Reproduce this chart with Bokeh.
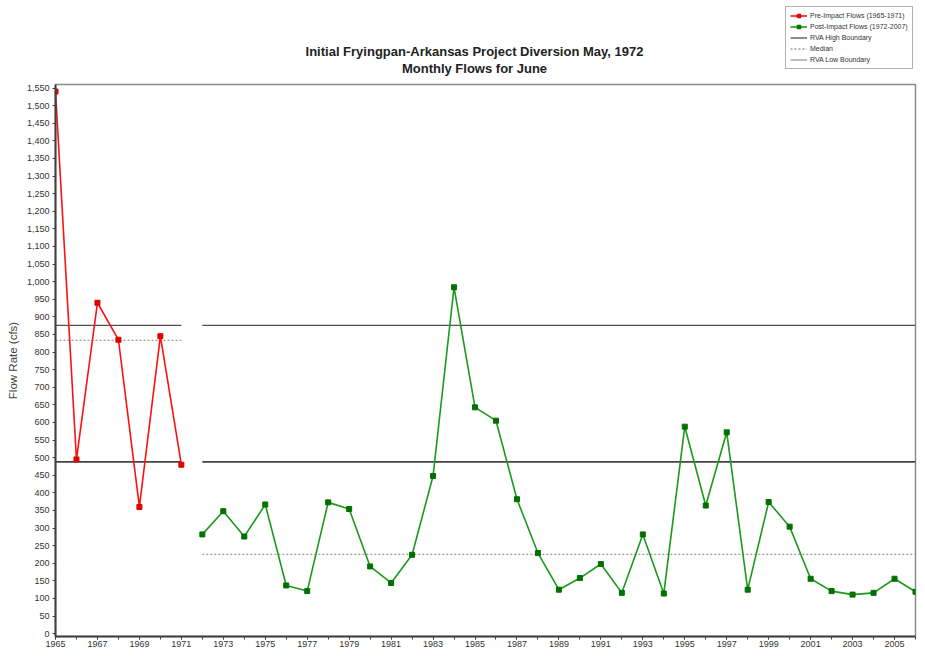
from bokeh.plotting import figure
from bokeh.layouts import column
from bokeh.models import Range1d, FixedTicker, NumeralTickFormatter, Legend, LegendItem, Label
from bokeh.embed import file_html
from bokeh.resources import INLINE

# ---- data ----
pre_years = list(range(1965, 1972))
pre_flows = [1540, 495, 940, 835, 360, 845, 480]
post_years = list(range(1972, 2007))
post_flows = [282, 348, 276, 367, 137, 121, 373, 354, 191, 144,
              224, 448, 984, 643, 605, 382, 229, 125, 158, 198,
              116, 282, 114, 588, 364, 572, 125, 374, 304, 156,
              121, 111, 116, 156, 119]
rva_high = 876
rva_low = 488
pre_median = 833
post_median = 225
title_lines = ["Initial Fryingpan-Arkansas Project Diversion May, 1972",
               "Monthly Flows for June"]
legend_labels = ["Pre-Impact Flows (1965-1971)", "Post-Impact Flows (1972-2007)",
                 "RVA High Boundary", "Median", "RVA Low Boundary"]
x_tick_years = list(range(1965, 2007, 2))
x_minor_years = list(range(1965, 2007))
y_ticks = list(range(0, 1551, 50))

FONT = "Liberation Sans"
W = 917
HEAD_H = 83
BODY_H = 569
LEFT = 55
RIGHT = 2

# styles
PRE_LINE = dict(line_color="#ff1010", line_width=1.6)
PRE_MARK = dict(marker="square", size=5, color="#e00000")
POST_LINE = dict(line_color="#1a9a1a", line_width=1.6)
POST_MARK = dict(marker="square", size=5, color="#007000")
HI_STYLE = dict(line_color="#505050", line_width=1.3)
MED_STYLE = dict(line_color="#9a9a9a", line_width=1.3, line_dash="2 2")
LO_STYLE = dict(line_color="#454545", line_width=1.6)
LO_LEG_STYLE = dict(line_color="#9a9a9a", line_width=1.3)

pre_span = [pre_years[0], pre_years[-1]]
post_span = [post_years[0], post_years[-1]]

# ---------------- header: title + legend ----------------
head = figure(width=W, height=HEAD_H, output_backend="svg", toolbar_location=None,
              x_range=Range1d(LEFT, W - RIGHT), y_range=Range1d(0, HEAD_H),
              x_axis_location=None, y_axis_location=None,
              min_border_left=LEFT, min_border_right=RIGHT,
              min_border_top=0, min_border_bottom=0)
head.xgrid.visible = False
head.ygrid.visible = False
head.outline_line_color = None

# legend proxies (hidden copies of the series, only used to draw legend swatches)
lp1 = head.line(pre_years, pre_flows, visible=False, **PRE_LINE)
lp2 = head.scatter(pre_years, pre_flows, visible=False, **PRE_MARK)
lq1 = head.line(post_years, post_flows, visible=False, **POST_LINE)
lq2 = head.scatter(post_years, post_flows, visible=False, **POST_MARK)
lh = head.line(pre_span, [rva_high, rva_high], visible=False, **HI_STYLE)
lm = head.line(pre_span, [pre_median, pre_median], visible=False, **MED_STYLE)
ll = head.line(pre_span, [rva_low, rva_low], visible=False, **LO_LEG_STYLE)

legend = Legend(items=[
    LegendItem(label=legend_labels[0], renderers=[lp1, lp2]),
    LegendItem(label=legend_labels[1], renderers=[lq1, lq2]),
    LegendItem(label=legend_labels[2], renderers=[lh]),
    LegendItem(label=legend_labels[3], renderers=[lm]),
    LegendItem(label=legend_labels[4], renderers=[ll]),
], location=(730, 14))
legend.label_text_font = FONT
legend.label_text_font_size = "7px"
legend.label_text_color = "#333333"
legend.label_height = 9
legend.glyph_height = 9
legend.glyph_width = 17
legend.label_standoff = 3
legend.spacing = 2
legend.padding = 4
legend.margin = 0
legend.border_line_color = "#666666"
legend.border_line_width = 1
legend.background_fill_alpha = 1
head.add_layout(legend, "center")

title_x = 474
title_y = [HEAD_H - 51, HEAD_H - 68]
for txt, ty in zip(title_lines, title_y):
    head.add_layout(Label(x=title_x, y=ty, text=txt, text_align="center", text_baseline="middle",
                          text_font=FONT, text_font_size="13px", text_font_style="bold",
                          text_color="#222222"))

# ---------------- chart body ----------------
p = figure(width=W, height=BODY_H, output_backend="svg", toolbar_location=None,
           x_range=Range1d(1965, 2006), y_range=Range1d(-8, 1560),
           min_border_left=LEFT, min_border_right=RIGHT, min_border_top=1, min_border_bottom=16)
p.xgrid.visible = False
p.ygrid.visible = False
p.outline_line_color = "#8c8c8c"
p.outline_line_width = 1.5

p.xaxis.ticker = FixedTicker(ticks=x_tick_years, minor_ticks=x_minor_years)
p.yaxis.ticker = FixedTicker(ticks=y_ticks)
p.yaxis.formatter = NumeralTickFormatter(format="0,0")
for ax in (p.xaxis[0], p.yaxis[0]):
    ax.axis_line_color = "#404040"
    ax.axis_line_width = 2
    ax.major_tick_line_color = "#404040"
    ax.minor_tick_line_color = "#404040"
    ax.major_tick_out = 3
    ax.major_tick_in = 0
    ax.major_label_text_font = FONT
    ax.major_label_text_font_size = "9px"
    ax.major_label_text_color = "#333333"
p.xaxis.minor_tick_out = 3
p.xaxis.minor_tick_in = 0
p.yaxis.minor_tick_out = 0
p.yaxis.minor_tick_in = 0
p.xaxis.major_label_standoff = 1
p.yaxis.major_label_standoff = 3
p.yaxis.axis_label = "Flow Rate (cfs)"
p.yaxis.axis_label_text_font = FONT
p.yaxis.axis_label_text_font_style = "normal"
p.yaxis.axis_label_text_font_size = "11.5px"
p.yaxis.axis_label_text_color = "#444444"
p.yaxis.axis_label_standoff = 5

# reference lines (pre and post periods)
p.line(pre_span, [rva_high, rva_high], **HI_STYLE)
p.line(post_span, [rva_high, rva_high], **HI_STYLE)
p.line(pre_span, [pre_median, pre_median], **MED_STYLE)
p.line(post_span, [post_median, post_median], **MED_STYLE)
p.line(pre_span, [rva_low, rva_low], **LO_STYLE)
p.line(post_span, [rva_low, rva_low], **LO_STYLE)

# series
p.line(pre_years, pre_flows, **PRE_LINE)
p.scatter(pre_years, pre_flows, **PRE_MARK)
p.line(post_years, post_flows, **POST_LINE)
p.scatter(post_years, post_flows, **POST_MARK)

layout = column(head, p, spacing=0)
open("out.html", "w").write(file_html(layout, INLINE))
